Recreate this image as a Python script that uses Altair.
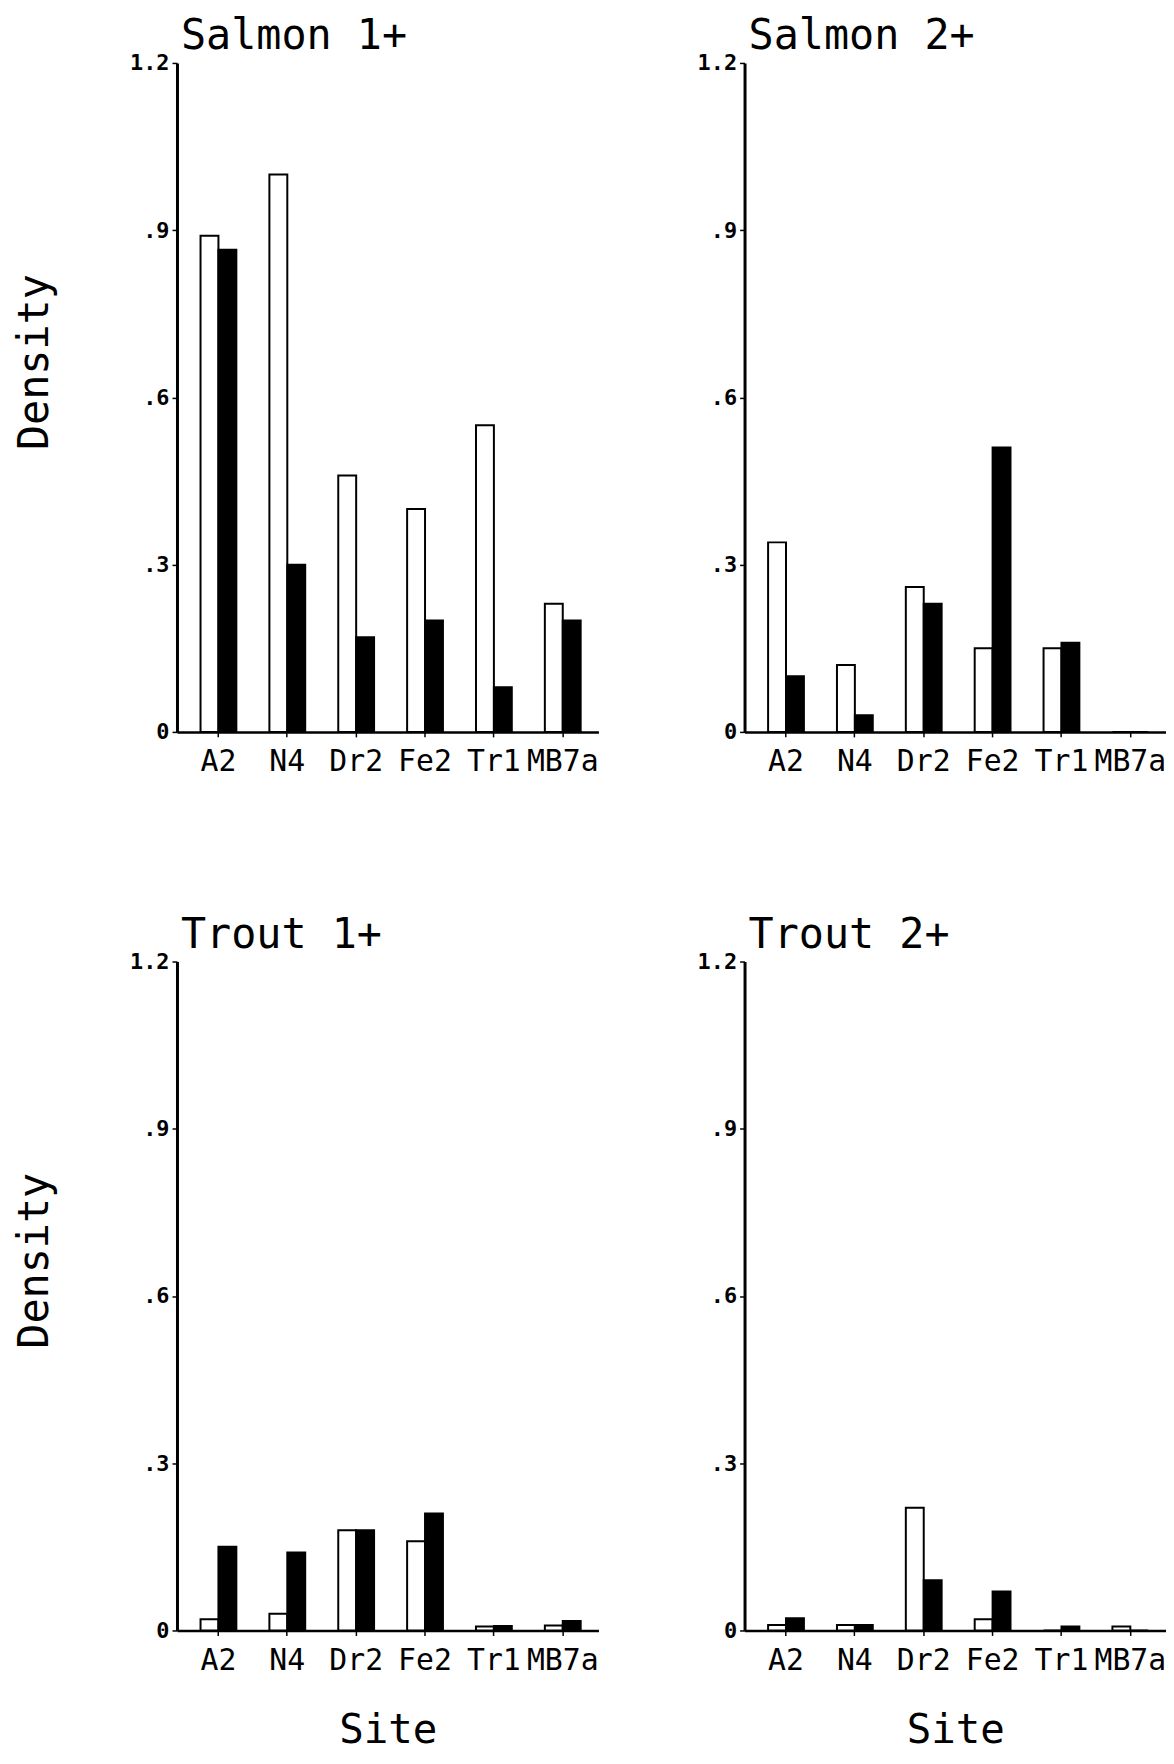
import altair as alt
import pandas as pd

sites = ["A2", "N4", "Dr2", "Fe2", "Tr1", "MB7a"]
series = ["open", "filled"]

salmon1_open = [0.89, 1.00, 0.46, 0.40, 0.55, 0.23]
salmon1_filled = [0.865, 0.30, 0.17, 0.20, 0.08, 0.20]
salmon2_open = [0.34, 0.12, 0.26, 0.15, 0.15, 0.0]
salmon2_filled = [0.10, 0.03, 0.23, 0.51, 0.16, 0.0]
trout1_open = [0.02, 0.03, 0.18, 0.16, 0.007, 0.009]
trout1_filled = [0.15, 0.14, 0.18, 0.21, 0.008, 0.017]
trout2_open = [0.01, 0.01, 0.22, 0.02, 0.0, 0.007]
trout2_filled = [0.022, 0.01, 0.09, 0.07, 0.007, 0.0]

y_ticks = [0, 0.3, 0.6, 0.9, 1.2]

FONT = "DejaVu Sans Mono"
W = 424
H = 673


def panel(title, open_vals, filled_vals, show_ytitle, show_xtitle):
    df = pd.DataFrame({
        "Site": sites * 2,
        "Density": open_vals + filled_vals,
        "Series": [series[0]] * len(sites) + [series[1]] * len(sites),
    })
    yaxis = alt.Axis(
        values=y_ticks,
        labelExpr="datum.value == 0 ? '0' : replace(format(datum.value, '.1f'), '0.', '.')",
        title="Density" if show_ytitle else "",
        titleFont=FONT, titleFontSize=42, titleFontWeight="normal", titleColor="black",
        titlePadding=74, titleY=H / 2 - 36,
        labelFont=FONT, labelFontSize=22, labelFontWeight="bold", labelColor="black",
        labelPadding=3,
        domainColor="black", domainWidth=3,
        tickColor="black", tickSize=5, tickWidth=1.5,
        grid=False,
    )
    xaxis = alt.Axis(
        title="Site" if show_xtitle else "",
        titleFont=FONT, titleFontSize=41, titleFontWeight="normal", titleColor="black",
        titlePadding=36,
        labelFont=FONT, labelFontSize=30, labelFontWeight="normal", labelColor="black",
        labelAngle=0, labelPadding=10, labelOverlap=False, labelBound=False,
        domainColor="black", domainWidth=2.5,
        tickColor="black", tickSize=5, tickWidth=1.5,
        grid=False,
    )
    return alt.Chart(
        df,
        title=alt.TitleParams(
            title, anchor="start", frame="group", font=FONT, fontSize=42,
            fontWeight="normal", color="black", baseline="bottom", offset=-48, dx=4,
        ),
    ).mark_bar(stroke="black", strokeWidth=2).encode(
        x=alt.X("Site:N", sort=sites,
                scale=alt.Scale(paddingInner=0.48, paddingOuter=0.30, align=0.57), axis=xaxis),
        xOffset=alt.XOffset("Series:N", sort=series,
                            scale=alt.Scale(paddingInner=0, paddingOuter=0)),
        y=alt.Y("Density:Q", scale=alt.Scale(domain=[0, 1.2], nice=False), axis=yaxis),
        color=alt.Color("Series:N", scale=alt.Scale(domain=series, range=["white", "black"]),
                        legend=None),
    ).properties(width=W, height=H)


top = alt.hconcat(
    panel("Salmon 1+", salmon1_open, salmon1_filled, True, False),
    panel("Salmon 2+", salmon2_open, salmon2_filled, False, False),
    spacing=99,
)
bottom = alt.hconcat(
    panel("Trout 1+", trout1_open, trout1_filled, True, True),
    panel("Trout 2+", trout2_open, trout2_filled, False, True),
    spacing=99,
)

chart = alt.vconcat(top, bottom, spacing=138).properties(
    padding={"left": 5, "top": 2, "right": 0, "bottom": 0},
    background="white",
).configure_view(stroke=None)

chart.save("out.html", embed_options={"renderer": "svg", "actions": False})
